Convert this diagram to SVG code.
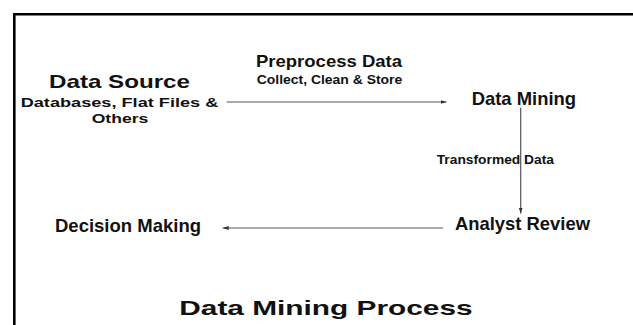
<svg xmlns="http://www.w3.org/2000/svg" width="633" height="325" viewBox="0 0 633 325">
<style>
  text { font-family: "Liberation Sans", Arial, sans-serif; font-weight: bold; fill: #111; }
  .conn { stroke: #555; stroke-width: 1.2; fill: none; }
  .frame { stroke: #000; stroke-width: 2.6; fill: none; }
</style>
<defs>
  <marker id="arr" markerUnits="userSpaceOnUse" markerWidth="7" markerHeight="5" refX="6" refY="2" orient="auto">
    <path d="M0,0 L6,2 L0,4 z" fill="#333"/>
  </marker>
</defs>
<rect width="633" height="325" fill="#fff"/>
<path class="frame" d="M14.3,325 V14.3 H633"/>
<g id="connectors">
  <path class="conn" d="M226.7,102 H446.5" marker-end="url(#arr)"/>
  <path class="conn" d="M520.7,107.7 V213.5" marker-end="url(#arr)"/>
  <path class="conn" d="M443,228 H222.7" marker-end="url(#arr)"/>
</g>
<g id="data-source">
  <text x="49" y="88.3" font-size="18.5" textLength="141" lengthAdjust="spacingAndGlyphs">Data Source</text>
  <text x="20.7" y="107.3" font-size="13.4" textLength="197.6" lengthAdjust="spacingAndGlyphs">Databases, Flat Files &amp;</text>
  <text x="91.7" y="123.3" font-size="13.4" textLength="56.6" lengthAdjust="spacingAndGlyphs">Others</text>
</g>
<g id="preprocess-label">
  <text x="256" y="67" font-size="17" textLength="146" lengthAdjust="spacingAndGlyphs">Preprocess Data</text>
  <text x="256.7" y="84" font-size="12" textLength="145.6" lengthAdjust="spacingAndGlyphs">Collect, Clean &amp; Store</text>
</g>
<g id="data-mining">
  <text x="471.7" y="105" font-size="18.6" textLength="104.3" lengthAdjust="spacingAndGlyphs">Data Mining</text>
</g>
<g id="transformed-label">
  <text x="436.7" y="164.3" font-size="13.7" textLength="117.3" lengthAdjust="spacingAndGlyphs">Transformed Data</text>
</g>
<g id="analyst-review">
  <text x="455" y="230" font-size="17.7" textLength="135" lengthAdjust="spacingAndGlyphs">Analyst Review</text>
</g>
<g id="decision-making">
  <text x="55" y="231.7" font-size="17.7" textLength="146" lengthAdjust="spacingAndGlyphs">Decision Making</text>
</g>
<g id="title">
  <text x="179.3" y="315" font-size="21" textLength="293.3" lengthAdjust="spacingAndGlyphs">Data Mining Process</text>
</g>
</svg>
